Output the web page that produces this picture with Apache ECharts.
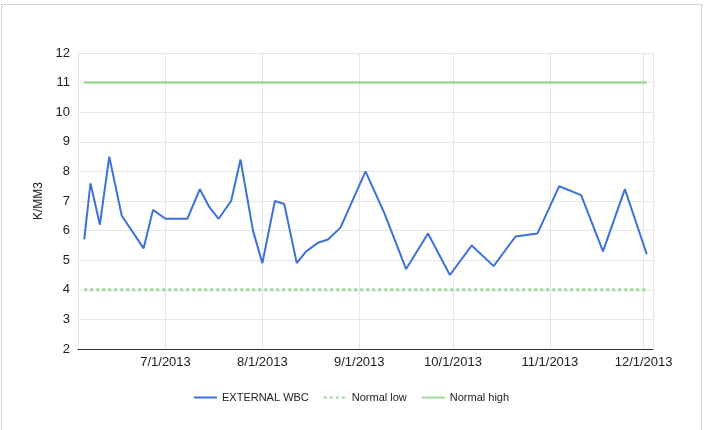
<!DOCTYPE html>
<html>
<head>
<meta charset="utf-8">
<script src="https://cdn.jsdelivr.net/npm/echarts@6/dist/echarts.min.js"></script>
<style>
html,body{margin:0;padding:0;background:#fff;}
#frame{position:absolute;left:1px;top:4px;width:701px;height:430px;border-top:1px solid #d4d4d4;border-left:1px solid #d4d4d4;border-right:1px solid #d4d4d4;box-sizing:border-box;}
#chart{position:absolute;left:0;top:0;width:706px;height:430px;}
</style>
</head>
<body>
<div id="frame"></div>
<div id="chart"></div>
<script>
const dates = ['2013-06-05','2013-06-07','2013-06-10','2013-06-13','2013-06-17','2013-06-24','2013-06-27',
  '2013-07-01','2013-07-05','2013-07-08','2013-07-12','2013-07-15','2013-07-18','2013-07-22','2013-07-25','2013-07-29',
  '2013-08-01','2013-08-05','2013-08-08','2013-08-12','2013-08-15','2013-08-19','2013-08-22','2013-08-26',
  '2013-09-03','2013-09-09','2013-09-16','2013-09-23','2013-09-30',
  '2013-10-07','2013-10-14','2013-10-21','2013-10-28',
  '2013-11-04','2013-11-11','2013-11-18','2013-11-25','2013-12-02'];
const wbc = [5.7,7.6,6.2,8.5,6.5,5.4,6.7,
  6.4,6.4,6.4,7.4,6.8,6.4,7.0,8.4,6.0,
  4.9,7.0,6.9,4.9,5.3,5.6,5.7,6.1,
  8.0,6.6,4.7,5.9,4.5,
  5.5,4.8,5.8,5.9,
  7.5,7.2,5.3,7.4,5.2];
const normalLow = 4;
const normalHigh = 11;
const yTicks = [2,3,4,5,6,7,8,9,10,11,12];
const axisMin = '2013-06-03';
const axisMax = '2013-12-04';

const chart = echarts.init(document.getElementById('chart'), null, {renderer:'canvas'});
const font = 'Arial, "Liberation Sans", sans-serif';
function fmt(v){const d=new Date(v);return (d.getMonth()+1)+'/'+d.getDate()+'/'+d.getFullYear();}
chart.setOption({
  animation:false,
  backgroundColor:'transparent',
  grid:{left:78,right:53,top:53,bottom:81,containLabel:false},
  legend:{
    left:193, top:392, padding:0, itemWidth:23, itemHeight:10, itemGap:14,
    itemStyle:{opacity:0},
    textStyle:{fontFamily:font,fontSize:11,color:'#222'},
    data:['EXTERNAL WBC','Normal low','Normal high']
  },
  xAxis:{
    type:'time', min:axisMin, max:axisMax,
    axisLine:{lineStyle:{color:'#333',width:1}},
    axisTick:{show:false},
    axisLabel:{formatter:fmt, fontFamily:font, fontSize:13, color:'#222', margin:7, showMinLabel:false, showMaxLabel:false, hideOverlap:false},
    splitLine:{show:true,lineStyle:{color:'#e6e6e6',width:1}},
    minorTick:{show:false}
  },
  yAxis:{
    type:'value', min:yTicks[0], max:yTicks[yTicks.length-1], interval:1,
    name:'K/MM3', nameLocation:'middle', nameGap:33, nameRotate:90,
    nameTextStyle:{fontFamily:font,fontSize:12,color:'#222'},
    axisLine:{show:false}, axisTick:{show:false},
    axisLabel:{fontFamily:font,fontSize:13,color:'#222',margin:8},
    splitLine:{lineStyle:{color:'#e6e6e6',width:1}}
  },
  series:[
    {name:'EXTERNAL WBC',type:'line',symbol:'none',
     lineStyle:{color:'#3c72d9',width:2},itemStyle:{color:'#3c72d9'},
     data:dates.map((d,i)=>[d,wbc[i]]),z:3},
    {name:'Normal low',type:'line',symbol:'none',
     lineStyle:{color:'#9ed89a',width:3,type:[3,3]},itemStyle:{color:'#9ed89a'},
     data:dates.map(d=>[d,normalLow]),z:2},
    {name:'Normal high',type:'line',symbol:'none',
     lineStyle:{color:'#9ed89a',width:2.5},itemStyle:{color:'#9ed89a'},
     data:dates.map(d=>[d,normalHigh]),z:2}
  ]
});
</script>
</body>
</html>
